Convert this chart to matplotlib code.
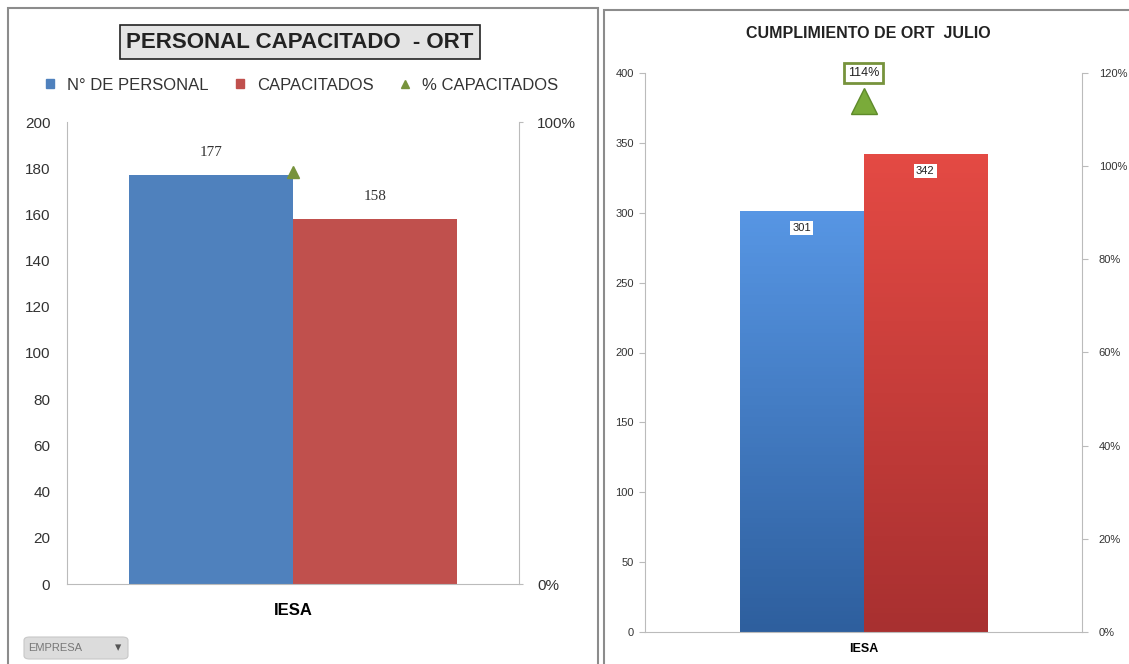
import matplotlib.pyplot as plt
import numpy as np
from matplotlib.patches import Rectangle, FancyBboxPatch
from matplotlib.lines import Line2D
from matplotlib.colors import to_rgb

plt.rcParams['font.family'] = ['Liberation Sans', 'DejaVu Sans']

# left chart data
categories = ["IESA"]
personal = [177]
capacitados = [158]
pct_capacitados = [c / p for c, p in zip(capacitados, personal)]

# right chart data
programado = [301]
cumplido = [342]
pct_cumplimiento = [1.14]

W, H = 1129, 664
fig = plt.figure(figsize=(W / 100, H / 100), dpi=100)


def px(x0, y0, x1, y1):
    # pixel box (top-left origin) -> figure fraction rect
    return [x0 / W, (H - y1) / H, (x1 - x0) / W, (y1 - y0) / H]


# panel frames
for (x0, y0, x1, y1) in [(8, 8, 598, 668), (604, 10, 1132, 668)]:
    fig.patches.append(Rectangle((x0 / W, (H - y1) / H), (x1 - x0) / W, (y1 - y0) / H,
                                 transform=fig.transFigure, facecolor="none",
                                 edgecolor="#8c8c8c", lw=1.5, zorder=-1))

# ---------------- left chart ----------------
ax = fig.add_axes(px(67, 122, 519, 584))
x = np.arange(len(categories))
w = 0.363
b1 = ax.bar(x - w / 2, personal, w, color="#4f81bd", label="N° DE PERSONAL")
b2 = ax.bar(x + w / 2, capacitados, w, color="#c0504d", label="CAPACITADOS")
ax.set_xlim(-0.5, 0.5)
ax.set_ylim(0, 200)
ax.set_yticks(range(0, 201, 20))
ax.set_xticks(x)
ax.set_xticklabels(categories, fontsize=12, fontweight="bold")
ax.tick_params(axis="x", length=0, pad=14)
ax.tick_params(axis="y", labelsize=11, labelcolor="#333333", length=0, pad=12)
for s in ["top", "right"]:
    ax.spines[s].set_visible(False)
for s in ["left", "bottom"]:
    ax.spines[s].set_color("#bbbbbb")
for rect, v in zip(list(b1) + list(b2), personal + capacitados):
    ax.text(rect.get_x() + rect.get_width() / 2, v + 7, str(v), ha="center", va="bottom",
            fontsize=11, family="Liberation Serif", color="#333333")

ax2 = ax.twinx()
ax2.set_ylim(0, 1)
ax2.set_yticks([0, 1])
ax2.set_yticklabels(["0%", "100%"])
ax2.tick_params(axis="y", labelsize=11, labelcolor="#333333", length=3, color="#bbbbbb", pad=10)
for s in ["top", "left", "bottom"]:
    ax2.spines[s].set_visible(False)
ax2.spines["right"].set_color("#bbbbbb")
ax2.plot(x, pct_capacitados, marker="^", ms=8, color="#77933c", ls="none", label="% CAPACITADOS")

handles = [Rectangle((0, 0), 1, 1, color="#4f81bd"), Rectangle((0, 0), 1, 1, color="#c0504d"),
           Line2D([], [], marker="^", color="#77933c", ls="none", ms=6)]
ax.legend(handles, ["N° DE PERSONAL", "CAPACITADOS", "% CAPACITADOS"], ncol=3,
          loc="center", bbox_to_anchor=(0.52, 1.08), frameon=False, fontsize=12,
          handlelength=0.5, handleheight=0.5, handletextpad=0.8, columnspacing=1.6,
          labelcolor="#333333")

fig.text(300 / W, 1 - 42 / H, "PERSONAL CAPACITADO  - ORT", ha="center", va="center",
         fontsize=16, fontweight="bold", color="#222222",
         bbox=dict(boxstyle="square,pad=0.3", facecolor="#e4e4e4", edgecolor="#222222", lw=1.2))

# EMPRESA button
fig.patches.append(FancyBboxPatch((24 / W, (H - 659) / H), 104 / W, 22 / H,
                                  boxstyle="round,pad=0,rounding_size=0.005",
                                  transform=fig.transFigure, facecolor="#dcdcdc",
                                  edgecolor="#c8c8c8", lw=0.8))
fig.text(28 / W, 1 - 648 / H, "EMPRESA", fontsize=8, color="#777777", va="center")
fig.text(118 / W, 1 - 648 / H, "▾", fontsize=9, color="#555555", va="center", ha="center")

# ---------------- right chart ----------------
bx = fig.add_axes(px(645, 73, 1082, 632))
w2 = 0.282
r1 = bx.bar(x - w2 / 2, programado, w2, color="#3d7fd4")
r2 = bx.bar(x + w2 / 2, cumplido, w2, color="#d43c3c")
bx.set_xticks(x)
bx.set_xticklabels(categories, fontsize=9, fontweight="bold")
bx.tick_params(axis="x", length=0, pad=8)
bx.tick_params(axis="y", labelsize=8, labelcolor="#333333", length=4, color="#bbbbbb", pad=4)
for s in ["top", "right"]:
    bx.spines[s].set_visible(False)
for s in ["left", "bottom"]:
    bx.spines[s].set_color("#bbbbbb")

# vertical gradient on the bars
grads = [("#5796e4", "#2e5f9e"), ("#e44a44", "#a83030")]
for bars, (top, bot) in zip([r1, r2], grads):
    for rect in bars:
        t = np.linspace(0, 1, 100)[:, None]
        img = (np.array(to_rgb(top)) * (1 - t) + np.array(to_rgb(bot)) * t)[:, None, :]
        x0, y0 = rect.get_x(), rect.get_y()
        im = bx.imshow(img, extent=[x0, x0 + rect.get_width(), y0, y0 + rect.get_height()],
                       aspect="auto", zorder=rect.get_zorder() + 0.1, origin="upper")
        im.set_clip_path(rect)
bx.set_xlim(-0.5, 0.5)
bx.set_ylim(0, 400)
bx.set_yticks(range(0, 401, 50))

for rect, v in zip(list(r1) + list(r2), programado + cumplido):
    bx.text(rect.get_x() + rect.get_width() / 2, v - 12, str(v), ha="center", va="center",
            fontsize=8, color="#222222", zorder=5,
            bbox=dict(boxstyle="square,pad=0.2", facecolor="white", edgecolor="none"))

bx2 = bx.twinx()
bx2.set_ylim(0, 1.2)
bx2.set_yticks(np.arange(0, 1.21, 0.2))
bx2.set_yticklabels([f"{int(round(v * 100))}%" for v in np.arange(0, 1.21, 0.2)])
bx2.tick_params(axis="y", labelsize=8, labelcolor="#333333", length=4, color="#bbbbbb", pad=8)
for s in ["top", "left", "bottom"]:
    bx2.spines[s].set_visible(False)
bx2.spines["right"].set_color("#bbbbbb")
bx2.plot(x, pct_cumplimiento, marker="^", ms=19, color="#7aab3a", mec="#5e8a2a", ls="none")
for xi, p in zip(x, pct_cumplimiento):
    bx2.text(xi, p + 0.06, f"{p:.0%}", ha="center", va="center", fontsize=9, color="#222222",
             bbox=dict(boxstyle="square,pad=0.3", facecolor="white", edgecolor="#77933c", lw=2))

fig.text(868 / W, 1 - 33 / H, "CUMPLIMIENTO DE ORT  JULIO", ha="center", va="center",
         fontsize=11.5, fontweight="bold", color="#222222")

fig.savefig("out.png", dpi=100)
